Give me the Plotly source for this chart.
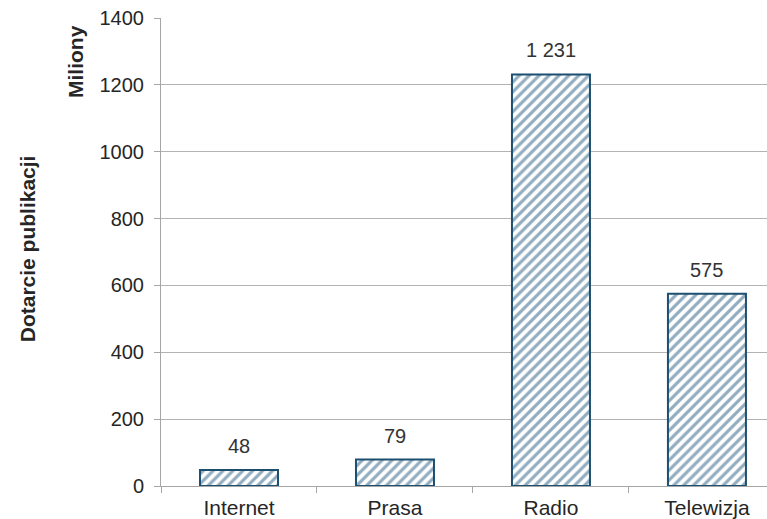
import plotly.graph_objects as go

# Media categories and their reach (millions)
categories = ["Internet", "Prasa", "Radio", "Telewizja"]
values = [48, 79, 1231, 575]
y_ticks = [0, 200, 400, 600, 800, 1000, 1200, 1400]

FONT = "Liberation Sans, Arial, sans-serif"


def fmt(v):
    return f"{v:,}".replace(",", " ")


fig = go.Figure()
fig.add_trace(go.Bar(
    x=categories,
    y=values,
    width=0.5,
    marker=dict(
        color="white",
        line=dict(color="#1d4f70", width=2),
        pattern=dict(shape="/", fgcolor="#245a80", bgcolor="white",
                     size=7, solidity=0.45),
    ),
    hoverinfo="skip",
))

# Value labels above each bar
for c, v in zip(categories, values):
    fig.add_annotation(x=c, y=v, text=fmt(v), showarrow=False,
                       yanchor="middle", yshift=24,
                       font=dict(family=FONT, size=20, color="#333333"))

# Axis titles
fig.add_annotation(xref="paper", yref="paper", x=-0.221, y=0.506, xanchor="center",
                   yanchor="middle", text="<b>Dotarcie publikacji</b>", textangle=-90,
                   showarrow=False,
                   font=dict(family=FONT, size=21, color="#262626"))
fig.add_annotation(xref="paper", yref="paper", x=-0.142, y=0.908, xanchor="center",
                   yanchor="middle", text="<b>Miliony</b>", textangle=-90,
                   showarrow=False,
                   font=dict(family=FONT, size=21, color="#262626"))

fig.update_layout(
    width=767, height=519,
    margin=dict(l=161, r=0, t=18, b=33),
    paper_bgcolor="white", plot_bgcolor="white",
    showlegend=False,
    font=dict(family=FONT, size=20, color="#333333"),
    xaxis=dict(
        type="category",
        range=[-0.5, 3.385],
        automargin=False,
        showline=True, linecolor="#a6a6a6", linewidth=1,
        ticks="outside", tickson="boundaries", ticklen=6, tickcolor="#a6a6a6",
        showgrid=False,
        tickfont=dict(size=21, color="#262626"),
        ticklabelstandoff=3,
    ),
    yaxis=dict(
        range=[0, 1400],
        tickvals=y_ticks,
        automargin=False,
        showline=True, linecolor="#a6a6a6", linewidth=1,
        ticks="outside", ticklen=6, tickcolor="#a6a6a6",
        showgrid=True, gridcolor="#b3b3b3", gridwidth=1,
        zeroline=False,
        tickfont=dict(size=20, color="#262626"),
        ticklabelstandoff=6,
    ),
)

fig.write_html("out.html")
